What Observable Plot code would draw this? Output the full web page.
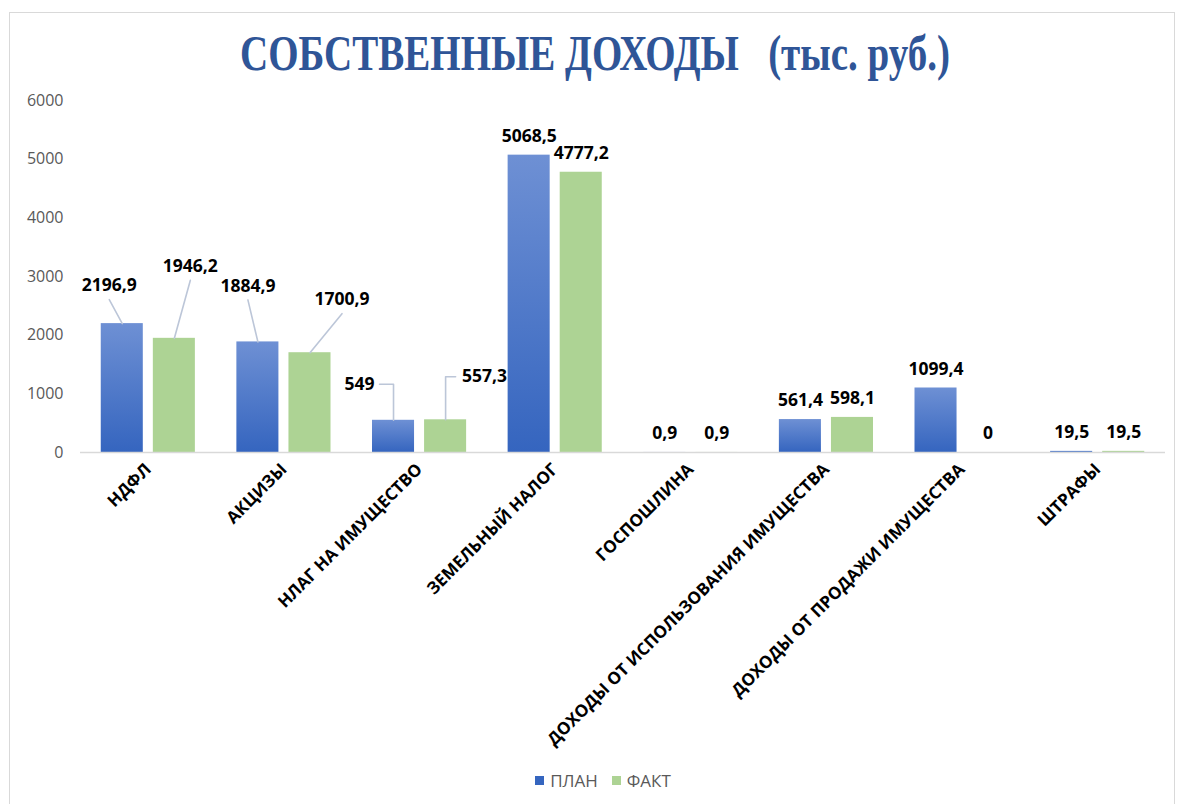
<!DOCTYPE html>
<html>
<head>
<meta charset="utf-8">
<script src="https://cdn.jsdelivr.net/npm/d3@7"></script>
<script src="https://cdn.jsdelivr.net/npm/@observablehq/plot@0.6"></script>
<style>
  html, body { margin: 0; padding: 0; background: #fff; }
  #frame { position: absolute; left: 9px; top: 12px; width: 1166px; height: 800px; border: 1px solid #D9D9D9; border-bottom: none; box-sizing: border-box; }
  #title { position: absolute; left: 0; top: 24px; width: 1190px; text-align: center; font-family: "Liberation Serif", "Times New Roman", serif; font-weight: bold; font-size: 50px; color: #2F5597; white-space: pre; }
  #title span { display: inline-block; transform: scaleX(0.78); transform-origin: center; }
  #chart { position: absolute; left: 0; top: 90px; }
  #legend { position: absolute; left: 14px; top: 767px; width: 1178px; text-align: center; font-family: "Open Sans", sans-serif; font-size: 17px; color: #595959; }
  #legend .item { display: inline-flex; align-items: center; margin: 0 7px; }
  #legend .sw { width: 9px; height: 9px; margin-right: 6px; display: inline-block; }
  svg g[aria-label="x-axis"] text, svg g[aria-label="x-axis tick label"] text { font-weight: bold; font-size: 17px; fill: #000; }
</style>
</head>
<body>
<div id="frame"></div>
<div id="title"><span>СОБСТВЕННЫЕ ДОХОДЫ   (тыс. руб.)</span></div>
<div id="chart"></div>
<div id="legend"></div>
<script>
// ---- data ----
const categories = ["НДФЛ", "АКЦИЗЫ", "НЛАГ НА ИМУЩЕСТВО", "ЗЕМЕЛЬНЫЙ НАЛОГ", "ГОСПОШЛИНА", "ДОХОДЫ ОТ ИСПОЛЬЗОВАНИЯ ИМУЩЕСТВА", "ДОХОДЫ ОТ ПРОДАЖИ ИМУЩЕСТВА", "ШТРАФЫ"];
const seriesNames = ["ПЛАН", "ФАКТ"];
const planValues = [2196.9, 1884.9, 549, 5068.5, 0.9, 561.4, 1099.4, 19.5];
const factValues = [1946.2, 1700.9, 557.3, 4777.2, 0.9, 598.1, 0, 19.5];
const yTicks = [0, 1000, 2000, 3000, 4000, 5000, 6000];

// ---- style ----
const W = 1178, H = 670;
const margins = {marginTop: 10, marginBottom: 308, marginLeft: 80, marginRight: 13};
const barHalf = 0.155;   // half bar width in category units
const barOff = 0.192;    // bar centre offset from category centre
const seriesOffset = [-barOff, barOff];
const planColorTop = "#6E90D4", planColorBottom = "#3565BF";
const factColor = "#ADD394";
const leaderColor = "#BCC6D8";
const labelFont = 17.5;
// label placement (pixels relative to the bar top centre); others sit above the bar
const labelNudge = {
  "0-0": {dx: -13, dy: -38, leader: "slant"},
  "0-1": {dx: 16, dy: -72, leader: "slant"},
  "1-0": {dx: -10, dy: -56, leader: "slant"},
  "1-1": {dx: 32, dy: -53, leader: "slant"},
  "2-0": {dx: -34, dy: -36, leader: "elbow", hx: -14},
  "2-1": {dx: 39, dy: -43, leader: "elbow", hx: 10}
};
const defaultLabelDy = -19;

const rows = [];
categories.forEach((c, i) => {
  [planValues, factValues].forEach((vals, s) => {
    rows.push({i, s, series: seriesNames[s], category: c, value: vals[i], xc: i + seriesOffset[s]});
  });
});
const fmt = v => String(v).replace(".", ",");

const scaleOpts = {
  x: {type: "linear", domain: [-0.5, 7.5], ticks: d3.range(categories.length), tickFormat: i => categories[i], tickRotate: -45, tickSize: 0, tickPadding: 14, label: null},
  y: {domain: [0, 6000], ticks: yTicks, tickFormat: d => String(d), tickSize: 0, tickPadding: 17, label: null}
};
const barMarks = [
  Plot.rect(rows.filter(d => d.s === 0), {x1: d => d.xc - barHalf, x2: d => d.xc + barHalf, y1: 0, y2: "value", fill: "url(#planGrad)"}),
  Plot.rect(rows.filter(d => d.s === 1), {x1: d => d.xc - barHalf, x2: d => d.xc + barHalf, y1: 0, y2: "value", fill: factColor}),
  Plot.ruleY([0], {stroke: "#D9D9D9", strokeWidth: 1.5})
];

// first pass: obtain Plot's own scales
const probe = Plot.plot({width: W, height: H, ...margins, ...scaleOpts, marks: barMarks});
const sx = probe.scale("x"), sy = probe.scale("y");

const labels = [], leaders = [];
rows.forEach(d => {
  const key = d.i + "-" + d.s;
  const bx = sx.apply(d.xc), by = sy.apply(d.value);
  const n = labelNudge[key];
  if (n) {
    const lx = bx + n.dx, ly = by + n.dy;
    labels.push({text: fmt(d.value), x: sx.invert(lx), y: sy.invert(ly)});
    if (n.leader === "slant") {
      leaders.push({id: key, x: d.xc, y: d.value});
      leaders.push({id: key, x: sx.invert(lx), y: sy.invert(ly + 14)});
    } else {
      leaders.push({id: key, x: d.xc, y: d.value});
      leaders.push({id: key, x: d.xc, y: sy.invert(ly)});
      leaders.push({id: key, x: sx.invert(bx + n.hx), y: sy.invert(ly)});
    }
  } else {
    labels.push({text: fmt(d.value), x: d.xc, y: sy.invert(by + defaultLabelDy)});
  }
});

const chart = Plot.plot({
  width: W, height: H, ...margins, ...scaleOpts,
  style: {fontFamily: "'Open Sans', sans-serif", fontSize: "16px", color: "#595959", background: "transparent"},
  marks: [
    ...barMarks,
    Plot.line(leaders, {x: "x", y: "y", z: "id", stroke: leaderColor, strokeWidth: 1.6}),
    Plot.text(labels, {x: "x", y: "y", text: "text", fontSize: labelFont, fontWeight: "bold", fill: "#000"})
  ]
});

// gradient definition for the plan bars
const defs = d3.select(chart).insert("defs", ":first-child");
const g = defs.append("linearGradient").attr("id", "planGrad").attr("x1", 0).attr("y1", 0).attr("x2", 0).attr("y2", 1);
g.append("stop").attr("offset", "0%").attr("stop-color", planColorTop);
g.append("stop").attr("offset", "100%").attr("stop-color", planColorBottom);

// x tick labels: bold black
d3.select(chart).selectAll("g[aria-label='x-axis'] text, g[aria-label='x-axis tick label'] text")
  .attr("fill", "#000").attr("font-weight", "bold").attr("font-size", "17px");

document.getElementById("chart").appendChild(chart);

// legend
const legend = d3.select("#legend");
[[seriesNames[0], planColorBottom], [seriesNames[1], factColor]].forEach(([name, col]) => {
  const it = legend.append("span").attr("class", "item");
  it.append("span").attr("class", "sw").style("background", col);
  it.append("span").text(name);
});
</script>
</body>
</html>
